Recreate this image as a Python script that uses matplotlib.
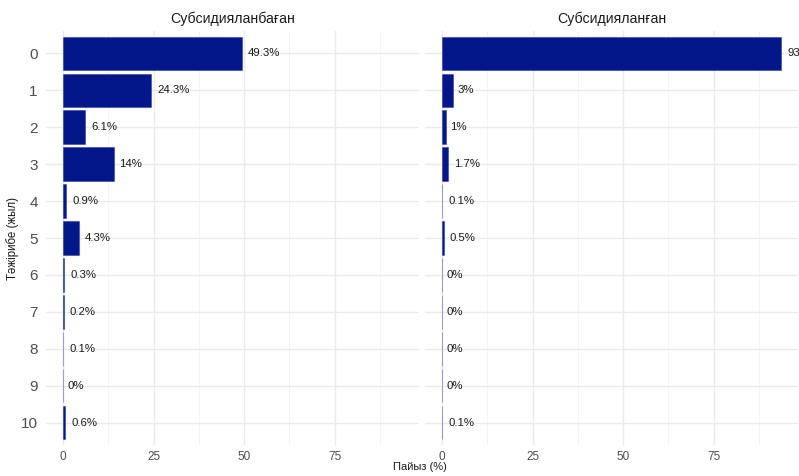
import matplotlib.pyplot as plt
import numpy as np

plt.rcParams['font.family'] = ['Liberation Sans', 'DejaVu Sans']

# data
years = [str(i) for i in range(11)]
no_subsidy = [49.3, 24.3, 6.1, 14, 0.9, 4.3, 0.3, 0.2, 0.1, 0, 0.6]
subsidy = [93.6, 3, 1, 1.7, 0.1, 0.5, 0, 0, 0, 0, 0.1]
panels = ["Субсидияланбаған", "Субсидияланған"]
xticks = [0, 25, 50, 75]

W, H = 799, 476
fig = plt.figure(figsize=(W / 100, H / 100), dpi=100)

xmax = max(max(no_subsidy), max(subsidy))
xlim = (-0.05 * xmax, 1.05 * xmax)

fill = '#03178A'
edge = (0.0, 0.09, 0.55, 0.35)


def fmt(v):
    s = ('%.1f' % v).rstrip('0').rstrip('.')
    return s + '%'


for k, (title, vals, left) in enumerate(zip(panels, [no_subsidy, subsidy], [46, 425])):
    ax = fig.add_axes([left / W, 31 / H, 373 / W, 414 / H])
    y = np.arange(len(years))
    ax.barh(y, vals, height=0.9, color=fill, edgecolor=edge, linewidth=0.8, zorder=3)
    for yi, v in zip(y, vals):
        lab = fmt(v)
        off = 2.5 + 0.45 * len(lab)
        ax.annotate(lab, (v, yi), xytext=(off, 0), textcoords='offset points',
                    va='center', ha='left', fontsize=8.2, color='#1a1a1a',
                    clip_on=False, zorder=4)
    ax.set_xlim(*xlim)
    ax.set_ylim(len(years) - 1 + 0.6, -0.6)
    ax.set_xticks(xticks)
    ax.set_xticks([12.5, 37.5, 62.5, 87.5], minor=True)
    ax.set_yticks(y)
    if k == 0:
        ax.set_yticklabels(years, fontsize=11, color='#4D4D4D')
        ax.set_ylabel("Тәжірибе (жыл)", fontsize=8.3, color='#1a1a1a', labelpad=1)
    else:
        ax.set_yticklabels([])
    ax.tick_params(axis='x', labelsize=8.5, labelcolor='#4D4D4D', length=0, pad=4)
    ax.tick_params(axis='y', length=0, pad=6)
    ax.tick_params(which='minor', length=0)
    ax.grid(True, which='major', color='#EBEBEB', linewidth=1.0, zorder=0)
    ax.grid(True, which='minor', axis='x', color='#F2F2F2', linewidth=0.6, zorder=0)
    ax.set_axisbelow(True)
    for s in ax.spines.values():
        s.set_visible(False)
    ax.set_title(title, fontsize=10.2, color='#1a1a1a', pad=6)

fig.text(420 / W, 1 - 467 / H, "Пайыз (%)", ha='center', va='center',
         fontsize=8, color='#1a1a1a')

fig.savefig('out.png', dpi=100)
